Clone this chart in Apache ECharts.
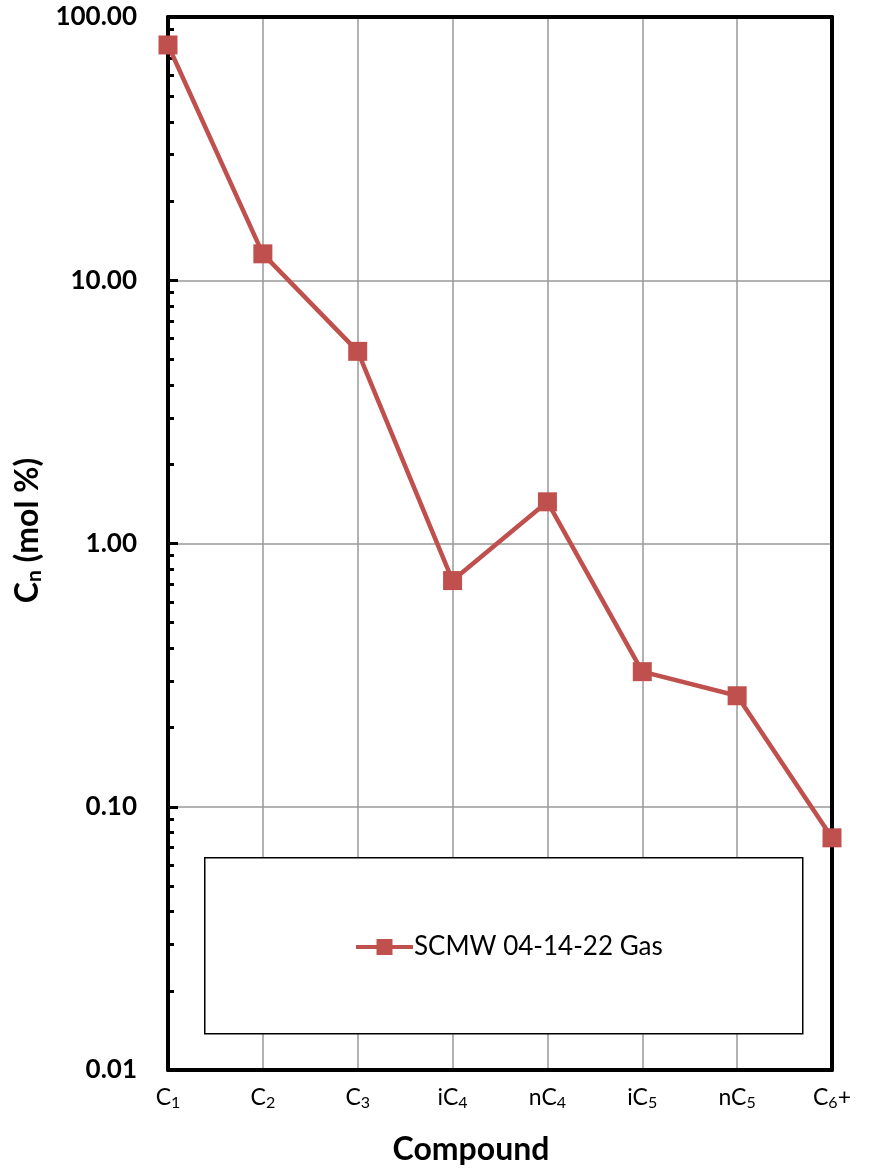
<!DOCTYPE html>
<html>
<head>
<meta charset="utf-8">
<script src="https://cdn.jsdelivr.net/npm/echarts@6/dist/echarts.min.js"></script>
<style>
  html, body { margin: 0; padding: 0; background: #fff; }
  #chart { width: 876px; height: 1169px; }
</style>
</head>
<body>
<div id="chart"></div>
<script>
// categories shown as C{sub|n}
const compounds = ["C|1", "C|2", "C|3", "iC|4", "nC|4", "iC|5", "nC|5", "C|6|+"];
const gasValues = [78.3, 12.6, 5.37, 0.723, 1.44, 0.326, 0.264, 0.0762];
const seriesName = "SCMW 04-14-22 Gas";
const minorTickValues = [
  0.02, 0.03, 0.04, 0.05, 0.06, 0.07, 0.08, 0.09,
  0.2, 0.3, 0.4, 0.5, 0.6, 0.7, 0.8, 0.9,
  2, 3, 4, 5, 6, 7, 8, 9,
  20, 30, 40, 50, 60, 70, 80, 90
];

const fontFamily = "Lato, 'Open Sans', sans-serif";
const lineColor = "#C0504D";

let mychart = echarts.init(document.getElementById("chart"));

function catLabel(v) {
  const parts = v.split("|");
  let s = parts[0] + "{sub|" + parts[1] + "}";
  if (parts[2]) s += parts[2];
  return s;
}

const yAxisBase = {
  type: "log",
  logBase: 10,
  min: 0.01,
  max: 100,
  position: "left"
};

// plain frame line used for top and right edges
const frameAxis = {
  axisLine: { show: true, lineStyle: { color: "#000", width: 4 } },
  axisTick: { show: false },
  axisLabel: { show: false },
  splitLine: { show: false }
};

const option = {
  backgroundColor: "#fff",
  animation: false,
  grid: {
    left: 168,
    right: 44,
    top: 17,
    bottom: 99,
    outerBoundsMode: "none",
    containLabel: false,
    show: false
  },
  xAxis: [
    {
      type: "category",
      data: compounds,
      boundaryGap: false,
      position: "bottom",
      axisLine: { show: true, onZero: false, lineStyle: { color: "#000", width: 4 } },
      axisTick: { show: false },
      splitLine: {
        show: true,
        interval: 0,
        lineStyle: { color: "#999", width: 1.5 }
      },
      axisLabel: {
        interval: 0,
        margin: 14,
        color: "#000",
        fontFamily: fontFamily,
        fontSize: 23,
        formatter: catLabel,
        rich: {
          sub: { fontSize: 16, verticalAlign: "bottom", padding: [11, 0, 0, 0], fontFamily: fontFamily, color: "#000" }
        }
      },
      name: "Compound",
      nameLocation: "middle",
      nameGap: 64,
      nameTextStyle: {
        color: "#000",
        fontFamily: fontFamily,
        fontSize: 32,
        fontWeight: "bold",
        padding: [0, 58, 0, 0]
      }
    },
    Object.assign({ type: "category", data: compounds, boundaryGap: false, position: "top" }, frameAxis)
  ],
  yAxis: [
    Object.assign({}, yAxisBase, {
      axisLine: { show: true, lineStyle: { color: "#000", width: 4 } },
      axisTick: { show: true, inside: true, length: 10, lineStyle: { color: "#000", width: 3 } },
      splitLine: { show: true, lineStyle: { color: "#999", width: 1.5 } },
      axisLabel: {
        color: "#000",
        fontFamily: fontFamily,
        fontSize: 26,
        fontWeight: "bold",
        margin: 31,
        formatter: v => v.toFixed(2)
      },
      name: "{b|C}{s|n}{b| (mol %)}",
      nameLocation: "middle",
      nameGap: 113,
      nameRotate: 90,
      nameTextStyle: {
        padding: [0, 0, 0, 26],
        rich: {
          b: { fontFamily: fontFamily, fontSize: 32, fontWeight: "bold", color: "#000" },
          s: { fontFamily: fontFamily, fontSize: 21, fontWeight: "bold", color: "#000", verticalAlign: "bottom", padding: [13, 0, 0, 0] }
        }
      }
    }),
    Object.assign({}, yAxisBase, {
      axisLine: { show: false },
      axisTick: {
        show: true,
        inside: true,
        length: 6,
        customValues: minorTickValues,
        lineStyle: { color: "#000", width: 3 }
      },
      splitLine: { show: false },
      axisLabel: { show: false }
    }),
    Object.assign({}, yAxisBase, frameAxis, { position: "right" })
  ],
  graphic: [
    {
      type: "rect",
      left: 204,
      top: 857,
      shape: { width: 598, height: 176 },
      style: { fill: "#fff", stroke: "#000", lineWidth: 1.5 },
      z: 5
    }
  ],
  legend: {
    data: [seriesName],
    left: 349,
    top: 929,
    itemWidth: 57,
    itemHeight: 20,
    itemGap: 0,
    z: 10,
    lineStyle: { width: 4, color: lineColor },
    itemStyle: { color: lineColor },
    textStyle: {
      color: "#000",
      fontFamily: fontFamily,
      fontSize: 26,
      padding: [0, 0, 0, -4]
    }
  },
  series: [
    {
      name: seriesName,
      type: "line",
      data: gasValues,
      xAxisIndex: 0,
      yAxisIndex: 0,
      symbol: "rect",
      symbolSize: 19,
      lineStyle: { color: lineColor, width: 4.5 },
      itemStyle: { color: lineColor },
      z: 20
    }
  ]
};
mychart.setOption(option);
</script>
</body>
</html>
